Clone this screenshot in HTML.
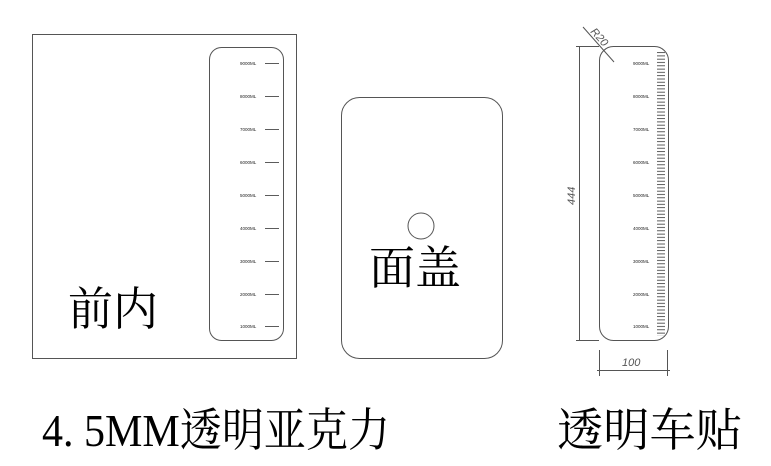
<!DOCTYPE html>
<html><head><meta charset="utf-8"><style>html,body{margin:0;padding:0;background:#fff}svg{display:block}</style></head>
<body>
<svg width="771" height="466" viewBox="0 0 771 466" xmlns="http://www.w3.org/2000/svg">
<defs>
<pattern id="tk" x="0" y="52" width="10" height="3.3" patternUnits="userSpaceOnUse">
<line x1="0" y1="0.6" x2="10" y2="0.6" stroke="#333" stroke-width="0.8"/>
</pattern>
</defs>
<g fill="none" stroke="#555" stroke-width="1">
<rect x="32.5" y="34.5" width="264" height="324"/>
<rect x="209.5" y="47.5" width="74" height="293" rx="12"/>
<rect x="341.5" y="97.5" width="161" height="261" rx="18"/>
<circle cx="421" cy="226" r="13"/>
<rect x="599.5" y="46.5" width="69" height="294" rx="14"/>
<line x1="579.5" y1="46" x2="579.5" y2="340"/>
<line x1="576" y1="46.5" x2="599" y2="46.5"/>
<line x1="576" y1="340.5" x2="599" y2="340.5"/>
<line x1="583" y1="27" x2="614" y2="62"/>
<line x1="599.5" y1="350" x2="599.5" y2="376"/>
<line x1="667.5" y1="350" x2="667.5" y2="376"/>
<line x1="597" y1="370.5" x2="670" y2="370.5"/>
</g>
<rect x="657" y="52" width="8" height="284" fill="url(#tk)"/>
<g font-family="Liberation Sans, sans-serif" font-size="4.5" fill="#222">
<text x="240" y="65">9000ML</text><text x="240" y="98">8000ML</text><text x="240" y="131">7000ML</text>
<text x="240" y="164">6000ML</text><text x="240" y="197">5000ML</text><text x="240" y="230">4000ML</text>
<text x="240" y="263">3000ML</text><text x="240" y="296">2000ML</text><text x="240" y="328">1000ML</text>
<text x="633" y="65">9000ML</text><text x="633" y="98">8000ML</text><text x="633" y="131">7000ML</text>
<text x="633" y="164">6000ML</text><text x="633" y="197">5000ML</text><text x="633" y="230">4000ML</text>
<text x="633" y="263">3000ML</text><text x="633" y="296">2000ML</text><text x="633" y="328">1000ML</text>
</g>
<g stroke="#333" stroke-width="0.8">
<line x1="265" y1="63.5" x2="279" y2="63.5"/><line x1="265" y1="96.5" x2="279" y2="96.5"/><line x1="265" y1="129.5" x2="279" y2="129.5"/>
<line x1="265" y1="162.5" x2="279" y2="162.5"/><line x1="265" y1="195.5" x2="279" y2="195.5"/><line x1="265" y1="228.5" x2="279" y2="228.5"/>
<line x1="265" y1="261.5" x2="279" y2="261.5"/><line x1="265" y1="294.5" x2="279" y2="294.5"/><line x1="265" y1="326.5" x2="279" y2="326.5"/>
</g>
<g font-family="Liberation Sans, sans-serif" font-style="italic" font-size="11" fill="#555">
<text x="0" y="0" transform="translate(575,205) rotate(-90)">444</text>
<text x="0" y="0" transform="translate(590,32) rotate(48)">R20</text>
<text x="622" y="366">100</text>
</g>
<g font-family="Liberation Serif, 'Noto Serif CJK SC', serif" font-size="46" fill="#000">
<text x="68" y="325" textLength="90" lengthAdjust="spacingAndGlyphs">前内</text>
<text x="369" y="284" textLength="92" lengthAdjust="spacingAndGlyphs">面盖</text>
<text x="42" y="446" textLength="348" lengthAdjust="spacingAndGlyphs">4. 5MM透明亚克力</text>
<text x="557" y="446" textLength="185" lengthAdjust="spacingAndGlyphs">透明车贴</text>
</g>
</svg>
</body></html>
